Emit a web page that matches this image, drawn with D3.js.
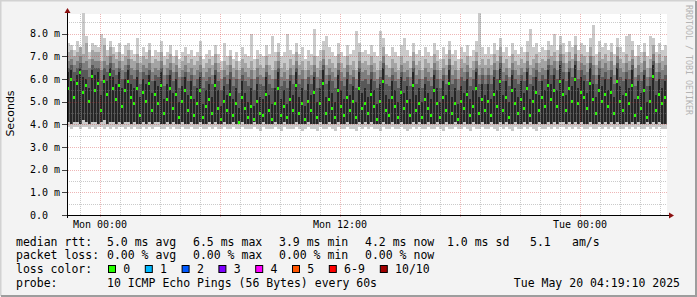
<!DOCTYPE html>
<html>
<head>
<meta charset="utf-8">
<script src="https://cdn.jsdelivr.net/npm/d3@7"></script>
<style>
  body { margin: 0; background: #f3f3f3; }
  svg text { font-family: "DejaVu Sans Mono", monospace; }
</style>
</head>
<body>
<script>
/* smokeping style latency chart: 10 pings per step, smoke bands + median */

var startTime = new Date(2025, 4, 18, 22, 21);
var endTime = new Date(2025, 4, 20, 4, 21);
var stepMinutes = 9;

// rtt in ms, one value per column
var medRtt = [
  5.6,6.0,5.2,5.8,6.3,5.4,5.7,5.0,6.1,5.5,5.8,4.6,5.9,5.3,6.2,5.6,5.1,5.7,4.8,5.5,
  5.9,5.2,4.9,5.6,4.4,5.4,5.0,5.8,4.6,5.3,4.9,5.7,4.5,5.1,5.6,4.7,5.3,4.3,5.0,5.5,
  4.6,5.2,4.4,4.9,5.5,4.3,4.8,5.1,4.5,5.7,4.7,4.2,5.0,4.6,5.3,4.4,4.9,4.1,5.2,4.7,
  4.3,4.8,4.2,5.0,4.5,4.4,5.3,4.6,4.2,4.9,5.6,4.4,4.8,4.3,5.1,4.6,5.7,4.5,4.9,4.2,
  5.0,4.6,5.4,4.3,4.9,5.8,4.5,5.1,4.7,4.3,5.5,4.8,4.4,5.2,4.6,5.0,4.3,5.6,4.7,4.9,
  4.5,5.3,4.8,4.2,5.0,5.9,4.6,4.4,5.2,4.8,4.3,5.4,4.7,5.0,4.4,5.7,4.6,4.9,4.3,5.1,
  4.7,4.4,5.5,4.9,4.3,5.2,4.6,5.8,4.5,4.9,4.2,5.0,4.7,5.3,4.4,4.8,5.6,4.5,5.1,4.6,
  5.0,4.4,5.3,4.8,5.9,4.6,5.2,4.3,5.5,4.9,4.5,5.1,4.7,5.6,4.4,5.0,5.4,4.6,5.2,4.8,
  5.7,5.1,5.5,4.8,5.9,5.3,4.6,5.6,5.0,6.0,4.9,5.4,5.2,4.7,5.8,5.1,4.5,5.5,5.0,5.3,
  4.8,5.4,4.5,5.9,5.0,4.6,5.3,4.9,5.7,4.4,5.2,4.7,5.5,4.3,5.0,6.1,4.6,5.3,4.9,5.2
];
var p6Rtt = [
  6.3,6.4,5.9,6.2,6.5,6.1,6.0,5.6,6.4,6.2,6.3,5.3,6.2,5.9,6.5,6.1,5.8,6.3,5.6,6.0,
  6.4,5.8,5.6,6.1,5.2,6.0,5.8,6.2,5.4,5.9,5.7,6.3,5.1,5.8,6.2,5.4,6.0,5.0,5.7,6.1,
  5.3,5.9,5.1,5.6,6.1,4.9,5.5,5.8,5.2,6.2,5.5,4.8,5.7,5.3,6.0,5.1,5.6,4.7,5.9,5.4,
  5.0,5.6,4.8,5.8,5.2,5.1,6.1,5.3,4.9,5.6,6.3,5.1,5.5,4.9,5.9,5.3,6.3,5.2,5.6,4.8,
  5.8,5.3,6.1,5.0,5.6,6.4,5.2,5.9,5.4,5.0,6.2,5.5,5.1,6.0,5.3,5.7,5.0,6.3,5.4,5.6,
  5.2,6.0,5.5,4.9,5.8,6.5,5.3,5.1,5.9,5.5,5.0,6.1,5.4,5.7,5.1,6.3,5.3,5.6,5.0,5.8,
  5.4,5.1,6.2,5.6,5.0,5.9,5.3,6.4,5.2,5.6,4.9,5.7,5.4,6.0,5.1,5.5,6.3,5.2,5.8,5.3,
  5.8,5.1,6.1,5.5,6.5,5.3,5.9,5.0,6.2,5.6,5.2,5.9,5.4,6.3,5.1,5.7,6.1,5.3,5.9,5.5,
  6.4,5.8,6.2,5.5,6.6,6.0,5.3,6.3,5.7,6.6,5.6,6.1,5.9,5.4,6.5,5.8,5.2,6.2,5.7,6.0,
  5.5,6.1,5.2,6.5,5.7,5.3,6.0,5.6,6.4,5.1,5.9,5.4,6.2,5.0,5.7,6.6,5.3,6.0,5.6,5.9
];
var p7Rtt = [
  6.5,6.6,6.3,6.5,6.7,6.4,6.4,6.1,6.6,6.5,6.5,5.9,6.5,6.3,6.7,6.4,6.2,6.5,6.0,6.3,
  6.6,6.2,6.0,6.4,5.8,6.3,6.2,6.4,5.9,6.2,6.1,6.5,5.7,6.2,6.4,5.9,6.3,5.6,6.1,6.3,
  5.9,6.2,5.7,6.0,6.3,5.6,5.9,6.1,5.8,6.4,5.9,5.5,6.1,5.8,6.3,5.7,6.0,5.4,6.2,5.9,
  5.7,6.0,5.5,6.1,5.8,5.7,6.3,5.8,5.6,6.0,6.5,5.7,5.9,5.6,6.2,5.8,6.5,5.8,6.0,5.5,
  6.1,5.8,6.3,5.6,6.0,6.6,5.8,6.2,5.9,5.6,6.4,5.9,5.7,6.3,5.8,6.1,5.6,6.5,5.9,6.0,
  5.8,6.3,5.9,5.6,6.1,6.7,5.8,5.7,6.2,5.9,5.6,6.3,5.9,6.1,5.7,6.5,5.8,6.0,5.6,6.1,
  5.9,5.7,6.4,6.0,5.6,6.2,5.8,6.6,5.8,6.0,5.5,6.1,5.9,6.3,5.7,6.0,6.5,5.8,6.2,5.8,
  6.2,5.8,6.4,6.0,6.7,5.9,6.2,5.7,6.4,6.0,5.8,6.2,5.9,6.5,5.8,6.1,6.4,5.9,6.2,6.0,
  6.6,6.2,6.5,6.0,6.8,6.3,5.9,6.5,6.1,6.8,6.0,6.4,6.2,5.9,6.7,6.2,5.8,6.5,6.1,6.3,
  6.0,6.4,5.8,6.7,6.1,5.9,6.3,6.0,6.6,5.7,6.2,5.9,6.4,5.7,6.1,6.8,5.9,6.3,6.0,6.2
];
var p8Rtt = [
  6.8,6.9,6.6,6.8,7.0,6.7,6.8,6.5,6.9,6.8,6.8,6.4,6.8,6.6,7.0,6.7,6.5,6.8,6.4,6.6,
  6.9,6.5,6.4,6.7,6.3,6.6,6.5,6.7,6.3,6.5,6.4,6.8,6.2,6.5,6.7,6.3,6.6,6.1,6.4,6.6,
  6.3,6.5,6.2,6.4,6.6,6.1,6.3,6.5,6.2,6.7,6.3,6.0,6.4,6.2,6.6,6.1,6.4,6.0,6.5,6.3,
  6.1,6.4,6.0,6.5,6.2,6.1,6.6,6.2,6.0,6.4,6.8,6.1,6.3,6.0,6.5,6.2,6.8,6.2,6.4,6.0,
  6.4,6.2,6.6,6.1,6.4,6.9,6.2,6.5,6.3,6.1,6.7,6.3,6.1,6.6,6.2,6.4,6.0,6.8,6.3,6.4,
  6.2,6.6,6.3,6.0,6.4,7.0,6.2,6.1,6.5,6.3,6.0,6.6,6.3,6.4,6.1,6.8,6.2,6.4,6.0,6.5,
  6.3,6.1,6.7,6.4,6.0,6.5,6.2,6.9,6.2,6.4,6.0,6.5,6.3,6.6,6.1,6.4,6.8,6.2,6.5,6.2,
  6.5,6.2,6.7,6.4,7.0,6.3,6.5,6.1,6.7,6.4,6.2,6.5,6.3,6.8,6.2,6.5,6.7,6.3,6.5,6.4,
  6.9,6.6,6.8,6.4,7.1,6.7,6.3,6.8,6.5,7.1,6.4,6.7,6.6,6.3,7.0,6.6,6.2,6.8,6.5,6.7,
  6.4,6.8,6.2,7.0,6.5,6.3,6.7,6.4,6.9,6.1,6.6,6.3,6.8,6.1,6.5,7.1,6.3,6.7,6.4,6.6
];
var p9Rtt = [
  7.2,7.3,7.0,7.2,7.4,7.1,7.6,6.9,7.3,7.2,7.2,6.8,7.5,7.0,7.4,7.1,6.9,7.2,6.8,7.0,
  7.3,6.9,6.8,7.1,6.7,7.0,6.9,7.3,6.7,6.9,6.8,7.2,6.6,6.9,7.1,6.7,7.0,6.5,6.8,7.0,
  6.7,6.9,6.6,6.8,7.0,6.5,6.7,6.9,6.6,7.1,6.7,6.4,6.8,6.6,7.0,6.5,6.8,6.4,6.9,6.7,
  6.5,6.8,6.4,6.9,6.6,6.5,7.0,6.6,6.4,6.8,7.2,6.5,6.7,6.4,6.9,6.6,7.2,6.6,6.8,6.4,
  6.8,6.6,7.0,6.5,6.8,7.3,6.6,6.9,6.7,6.5,7.1,6.7,6.5,7.0,6.6,6.8,6.4,7.2,6.7,6.8,
  6.6,7.0,6.7,6.4,6.8,7.4,6.6,6.5,6.9,6.7,6.4,7.0,6.7,6.8,6.5,7.2,6.6,6.8,6.4,6.9,
  6.7,6.5,7.1,6.8,6.4,6.9,6.6,7.3,6.6,6.8,6.4,6.9,6.7,7.0,6.5,6.8,7.2,6.6,6.9,6.6,
  6.9,6.6,7.1,6.8,7.4,6.7,6.9,6.5,7.1,6.8,6.6,6.9,6.7,7.2,6.6,6.9,7.1,6.7,6.9,6.8,
  7.3,7.0,7.2,6.8,7.5,7.1,6.7,7.2,6.9,7.5,6.8,7.1,7.0,6.7,7.4,7.0,6.6,7.2,6.9,7.1,
  6.8,7.2,6.6,7.4,6.9,6.7,7.1,6.8,7.3,6.5,7.0,6.7,7.2,6.5,6.9,7.5,6.7,7.1,6.8,7.0
];
var maxRtt = [
  7.6,7.5,7.3,7.7,7.4,8.9,7.9,7.2,7.6,7.5,7.4,8.0,7.8,7.3,7.7,7.4,7.2,7.6,7.1,7.5,
  7.6,7.3,7.1,7.8,7.0,7.4,7.2,7.6,7.0,7.3,7.2,7.7,7.0,7.2,7.5,7.0,7.3,6.9,7.2,7.4,
  7.1,7.3,7.0,7.2,7.7,6.9,7.1,7.3,7.0,7.5,7.1,6.8,7.6,7.0,7.3,6.9,7.2,6.8,7.4,7.1,
  7.0,8.0,6.9,7.3,7.1,7.0,7.5,7.1,7.9,7.2,7.6,7.0,7.2,8.0,7.3,7.1,7.6,7.1,7.4,6.9,
  7.3,7.1,8.2,7.0,7.3,7.7,7.9,7.4,7.2,7.0,7.6,7.2,7.0,7.5,7.1,7.3,8.1,7.6,7.2,7.3,
  7.1,7.5,7.2,7.0,8.1,7.8,7.1,7.0,7.4,7.2,7.0,7.5,7.8,7.3,7.0,7.6,7.1,7.3,7.0,7.4,
  7.2,7.0,7.6,7.3,6.9,7.4,7.1,7.7,7.1,7.3,6.9,7.4,7.2,7.5,7.0,7.3,7.7,8.9,7.4,7.1,
  7.4,7.1,7.6,7.3,7.8,7.2,7.4,7.0,7.6,7.3,7.1,7.4,7.2,7.7,8.2,7.4,7.6,7.2,7.4,7.3,
  7.7,7.5,8.0,7.3,7.9,7.6,7.2,7.7,7.4,7.9,7.3,7.6,7.5,7.2,7.8,8.4,7.1,7.7,7.4,7.6,
  7.3,7.6,7.1,7.8,7.4,7.2,7.9,8.0,7.7,7.0,7.5,7.2,7.6,7.0,7.9,7.8,7.2,7.6,7.3,7.5
];
var lowRtt = [
  4.1,4.0,4.1,4.1,4.0,4.2,4.1,4.0,4.1,4.1,4.0,4.1,4.2,4.0,4.1,4.1,4.0,4.1,4.0,4.1,
  4.1,4.0,4.1,4.0,4.0,4.1,4.0,4.1,4.0,4.1,4.1,4.0,4.0,4.1,4.0,4.1,4.0,4.0,4.1,4.0,
  4.0,4.1,4.0,4.0,4.1,4.0,4.0,4.1,4.0,4.1,4.0,4.0,4.1,4.0,4.0,4.1,4.0,4.0,4.1,4.0,
  4.0,4.0,4.1,4.0,4.0,4.1,4.0,4.0,4.0,4.1,4.0,4.0,4.1,4.0,4.0,4.0,4.1,4.0,4.0,4.0,
  4.1,4.0,4.0,4.0,4.1,4.0,4.0,4.1,4.0,4.0,4.1,4.0,4.0,4.1,4.0,4.0,4.0,4.1,4.0,4.1,
  4.0,4.1,4.0,4.0,4.0,4.1,4.0,4.0,4.1,4.0,4.0,4.1,4.0,4.0,4.0,4.1,4.0,4.1,4.0,4.0,
  4.1,4.0,4.0,4.1,4.0,4.0,4.1,4.0,4.0,4.1,4.0,4.0,4.1,4.0,4.0,4.1,4.0,4.0,4.1,4.0,
  4.0,4.1,4.0,4.0,4.1,4.0,4.1,4.0,4.0,4.1,4.0,4.0,4.1,4.0,4.1,4.0,4.0,4.1,4.0,4.0,
  4.1,4.0,4.1,4.0,4.1,4.1,4.0,4.1,4.0,4.1,4.0,4.1,4.0,4.0,4.1,4.0,4.0,4.1,4.0,4.1,
  4.0,4.1,4.0,4.1,4.0,4.0,4.1,4.0,4.1,4.0,4.1,4.0,4.0,4.1,4.0,4.1,4.0,4.1,4.0,4.0
];
var minRtt = [
  3.9,3.8,3.9,3.9,3.8,3.9,3.9,3.8,3.9,3.8,3.9,3.9,3.8,3.9,3.8,3.9,3.8,3.9,3.9,3.8,
  3.9,3.8,3.9,3.8,3.8,3.9,3.8,3.9,3.8,3.9,3.9,3.8,3.8,3.9,3.8,3.9,3.8,3.8,3.9,3.8,
  3.8,3.9,3.8,3.8,3.9,3.8,3.8,3.9,3.8,3.9,3.8,3.8,3.9,3.8,3.8,3.9,3.8,3.8,3.9,3.8,
  3.8,3.8,3.9,3.8,3.7,3.9,3.8,3.8,3.8,3.9,3.8,3.7,3.9,3.8,3.8,3.8,3.9,3.8,3.7,3.8,
  3.9,3.8,3.8,3.7,3.9,3.8,3.8,3.9,3.8,3.7,3.9,3.8,3.8,3.9,3.8,3.8,3.7,3.9,3.8,3.9,
  3.8,3.9,3.8,3.8,3.7,3.9,3.8,3.8,3.9,3.8,3.8,3.9,3.8,3.7,3.8,3.9,3.8,3.9,3.8,3.8,
  3.9,3.8,3.8,3.9,3.8,3.7,3.9,3.8,3.8,3.9,3.8,3.8,3.9,3.8,3.7,3.9,3.8,3.8,3.9,3.8,
  3.8,3.9,3.8,3.7,3.9,3.8,3.9,3.8,3.7,3.9,3.8,3.8,3.9,3.8,3.9,3.8,3.7,3.9,3.8,3.8,
  3.9,3.8,3.9,3.8,3.9,3.9,3.8,3.9,3.8,3.9,3.8,3.9,3.8,3.8,3.9,3.8,3.8,3.9,3.8,3.9,
  3.8,3.9,3.8,3.9,3.8,3.8,3.9,3.8,3.9,3.8,3.9,3.8,3.8,3.9,3.8,3.9,3.8,3.9,3.8,3.8
];

var yTicks = [0, 1, 2, 3, 4, 5, 6, 7, 8];
var yMax = 8.87;

var rttStats = ["5.0 ms avg", "6.5 ms max", "3.9 ms min", "4.2 ms now", "1.0 ms sd", "5.1", "am/s"];
var lossStats = ["0.00 % avg", "0.00 % max", "0.00 % min", "0.00 % now"];
var lossLabels = ["0", "1", "2", "3", "4", "5", "6-9", "10/10"];
var lossColors = ["#26ff00", "#00b8ff", "#0059ff", "#7e00ff", "#ff00ff", "#ff5500", "#ff0000", "#a10000"];
var probeText = "10 ICMP Echo Pings (56 Bytes) every 60s";
var stampText = "Tue May 20 04:19:10 2025";

var W = 697, H = 297;
var plot = {left: 67, right: 667, top: 14, bottom: 215};

var svg = d3.select("body").append("svg")
  .attr("width", W).attr("height", H);

// background + 3d frame
svg.append("rect").attr("width", W).attr("height", H).attr("fill", "#f3f3f3");
svg.append("path").attr("d", "M0.5," + (H - 1) + "V0.5H" + (W - 1))
  .attr("stroke", "#d2d2d2").attr("stroke-width", 2).attr("fill", "none");
svg.append("path").attr("d", "M1," + (H - 1) + "H" + (W - 1) + "V1")
  .attr("stroke", "#9d9d9d").attr("stroke-width", 2).attr("fill", "none");

svg.append("rect")
  .attr("x", plot.left).attr("y", plot.top)
  .attr("width", plot.right - plot.left).attr("height", plot.bottom - plot.top)
  .attr("fill", "#ffffff");

var x = d3.scaleTime().domain([startTime, endTime]).range([plot.left, plot.right]);
var y = d3.scaleLinear().domain([0, yMax]).range([plot.bottom, plot.top]);

var n = medRtt.length;
var colTimes = d3.range(n + 1).map(function(i) { return d3.timeMinute.offset(startTime, i * stepMinutes); });

/*************************************************************************************************/
/* smoke */

var bands = [
  {lo: minRtt, hi: maxRtt, color: "#cacaca", w: 1},
  {lo: lowRtt, hi: p9Rtt, color: "#a4a4a4", w: 1},
  {lo: lowRtt, hi: p8Rtt, color: "#7e7e7e", w: 1},
  {lo: lowRtt, hi: p7Rtt, color: "#585858", w: 1},
  {lo: lowRtt, hi: p6Rtt, color: "#262626", w: 0.67}
];

var smoke = svg.append("g").attr("class", "smoke").attr("shape-rendering", "crispEdges");

bands.forEach(function(b) {
  smoke.append("g").selectAll("rect")
    .data(d3.range(n))
    .enter().append("rect")
    .attr("x", function(i) { return x(colTimes[i]); })
    .attr("width", function(i) { return (x(colTimes[i + 1]) - x(colTimes[i])) * b.w; })
    .attr("y", function(i) { return y(b.hi[i]); })
    .attr("height", function(i) { return Math.max(0, y(b.lo[i]) - y(b.hi[i])); })
    .attr("fill", b.color);
});

// median, coloured by loss (all 0 loss here)
smoke.append("g").selectAll("rect")
  .data(d3.range(n))
  .enter().append("rect")
  .attr("x", function(i) { return x(colTimes[i]); })
  .attr("width", 2)
  .attr("y", function(i) { return y(medRtt[i]) - 1.5; })
  .attr("height", 3)
  .attr("fill", lossColors[0]);

/*************************************************************************************************/
/* grid (drawn over the smoke, rrdtool style) */

var grid = svg.append("g").attr("shape-rendering", "crispEdges").attr("fill", "none");
var minorCol = "rgba(130,130,130,0.42)", majorCol = "rgba(205,40,40,0.34)";

d3.range(0.5, yMax, 0.5).forEach(function(v) {
  var major = (v % 1 === 0);
  grid.append("line")
    .attr("x1", plot.left - (major ? 3 : 0)).attr("x2", plot.right)
    .attr("y1", Math.round(y(v)) + 0.5).attr("y2", Math.round(y(v)) + 0.5)
    .attr("stroke", major ? majorCol : minorCol)
    .attr("stroke-dasharray", "1,1");
});

x.ticks(d3.timeHour.every(1)).forEach(function(t) {
  var major = (t.getHours() % 6 === 0);
  var px = Math.round(x(t)) + 0.5;
  grid.append("line")
    .attr("x1", px).attr("x2", px)
    .attr("y1", plot.top).attr("y2", plot.bottom + (major ? 3 : 0))
    .attr("stroke", major ? majorCol : minorCol)
    .attr("stroke-dasharray", "1,1");
});

/*************************************************************************************************/
/* axes */

svg.append("line")
  .attr("x1", plot.left - 4).attr("x2", plot.right + 2)
  .attr("y1", plot.bottom + 0.5).attr("y2", plot.bottom + 0.5)
  .attr("stroke", "#000").attr("shape-rendering", "crispEdges");
svg.append("line")
  .attr("x1", plot.left + 0.5).attr("x2", plot.left + 0.5)
  .attr("y1", plot.bottom + 3).attr("y2", plot.top - 3)
  .attr("stroke", "#000").attr("shape-rendering", "crispEdges");

// y tick marks
yTicks.forEach(function(v) {
  svg.append("line")
    .attr("x1", plot.left - 5).attr("x2", plot.left)
    .attr("y1", Math.round(y(v)) + 0.5).attr("y2", Math.round(y(v)) + 0.5)
    .attr("stroke", "#444").attr("shape-rendering", "crispEdges");
});

// arrows
svg.append("path")
  .attr("d", "M" + (plot.right + 2) + "," + (plot.bottom - 2.5) + "L" + (plot.right + 7) + "," + (plot.bottom + 0.5) +
             "L" + (plot.right + 2) + "," + (plot.bottom + 3.5) + "Z")
  .attr("fill", "#8b1010");
svg.append("path")
  .attr("d", "M" + (plot.left - 2.5) + "," + (plot.top - 1) + "L" + (plot.left + 0.5) + "," + (plot.top - 6) +
             "L" + (plot.left + 3.5) + "," + (plot.top - 1) + "Z")
  .attr("fill", "#8b1010");

var fmtY = function(v) { return v === 0 ? "0.0" : d3.format(".1f")(v) + " m"; };

svg.append("g").selectAll("text")
  .data(yTicks)
  .enter().append("text")
  .attr("x", 30)
  .attr("y", function(v) { return y(v) + 3.7; })
  .attr("font-size", "10px")
  .attr("fill", "#000")
  .text(fmtY);

var fmtX = d3.timeFormat("%a %H:%M");
svg.append("g").selectAll("text")
  .data(x.ticks(d3.timeHour.every(12)))
  .enter().append("text")
  .attr("x", function(t) { return x(t); })
  .attr("y", 228)
  .attr("text-anchor", "middle")
  .attr("font-size", "10px")
  .attr("fill", "#000")
  .text(fmtX);

svg.append("text")
  .attr("transform", "translate(14,113.5) rotate(-90)")
  .attr("text-anchor", "middle")
  .style("font-family", "'DejaVu Sans', sans-serif")
  .attr("font-size", "11px")
  .attr("fill", "#000")
  .text("Seconds");

svg.append("text")
  .attr("transform", "translate(686,5) rotate(90)")
  .attr("font-size", "8.3px")
  .attr("fill", "#b4b4b4")
  .text("RRDTOOL / TOBI OETIKER");

/*************************************************************************************************/
/* legend */

var legend = svg.append("g").attr("font-size", "11.5px").attr("fill", "#000");
var rowY = [245.5, 259.2, 273, 286.8];
var colX = [107, 193, 279, 365, 447, 530, 572];

legend.append("text").attr("x", 16).attr("y", rowY[0]).text("median rtt:");
rttStats.forEach(function(s, i) {
  legend.append("text").attr("x", colX[i]).attr("y", rowY[0]).text(s);
});

legend.append("text").attr("x", 16).attr("y", rowY[1]).text("packet loss:");
lossStats.forEach(function(s, i) {
  legend.append("text").attr("x", colX[i]).attr("y", rowY[1]).text(s);
});

legend.append("text").attr("x", 16).attr("y", rowY[2]).text("loss color:");
var bx = 108;
lossLabels.forEach(function(s, i) {
  legend.append("rect")
    .attr("x", bx + 0.5).attr("y", rowY[2] - 7.5)
    .attr("width", 7).attr("height", 7)
    .attr("fill", lossColors[i]).attr("stroke", "#000").attr("stroke-width", 1);
  legend.append("text").attr("x", bx + 15.3).attr("y", rowY[2]).text(s);
  bx += 15.5 + (s.length + 2) * 7.1;
});

legend.append("text").attr("x", 16).attr("y", rowY[3]).text("probe:");
legend.append("text").attr("x", 107).attr("y", rowY[3]).text(probeText);
legend.append("text").attr("x", 680).attr("y", rowY[3]).attr("text-anchor", "end").text(stampText);
</script>
</body>
</html>
